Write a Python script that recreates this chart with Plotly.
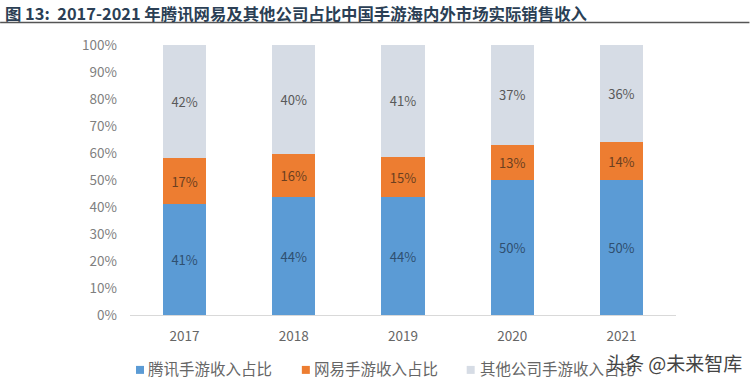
import plotly.graph_objects as go

years = ["2017", "2018", "2019", "2020", "2021"]
tencent = [41, 43.6, 43.6, 50, 50]
netease = [17, 16, 15, 13, 14]
others = [42, 40.4, 41.4, 37, 36]
y_ticks = [0, 10, 20, 30, 40, 50, 60, 70, 80, 90, 100]
y_tick_labels = ["0%", "10%", "20%", "30%", "40%", "50%", "60%", "70%", "80%", "90%", "100%"]
series_names = ["腾讯手游收入占比", "网易手游收入占比", "其他公司手游收入占比"]
colors = ["#5B9BD5", "#ED7D31", "#D6DCE5"]
label_colors = ["#2f4f70", "#6b3f20", "#595959"]
title = "图 13:  2017-2021 年腾讯网易及其他公司占比中国手游海内外市场实际销售收入"
watermark = "头条 @未来智库"

CJK = "Noto Sans CJK SC"
W, H = 750, 384
L, R, T, B = 130, 676.5, 44.5, 315

def px(x):
    return (x - L) / (R - L)

def py(y):
    return (B - y) / (B - T)

fig = go.Figure()
for name, vals, c, lc in zip(series_names, [tencent, netease, others], colors, label_colors):
    fig.add_bar(x=years, y=vals, name=name, marker=dict(color=c, line_width=0),
                width=0.395, texttemplate="%{y:.0f}%", textposition="inside",
                insidetextanchor="middle", constraintext="none", showlegend=False,
                textfont=dict(family=CJK, size=13, color=lc))

legend_squares = [136, 302, 467]
legend_texts = [146, 312, 478]
shapes = [dict(type="line", xref="paper", yref="paper", x0=px(0), x1=px(W),
               y0=py(22), y1=py(22), line=dict(color="#555555", width=1.5))]
annotations = [
    dict(text="<b>%s</b>" % title, xref="paper", yref="paper", showarrow=False,
         x=px(3), xanchor="left", y=py(12), yanchor="middle",
         font=dict(family=CJK, size=16.4, color="#2b3f55")),
]
for name, c, sx, tx in zip(series_names, colors, legend_squares, legend_texts):
    shapes.append(dict(type="rect", xref="paper", yref="paper", x0=px(sx), x1=px(sx + 8),
                       y0=py(366), y1=py(374), fillcolor=c, line_width=0))
    annotations.append(dict(text=name, xref="paper", yref="paper", showarrow=False,
                            x=px(tx), xanchor="left", y=py(368.5), yanchor="middle",
                            font=dict(family=CJK, size=15.5, color="#666666")))
annotations.append(dict(text=watermark, xref="paper", yref="paper", showarrow=False,
                        x=px(745), xanchor="right", y=py(363), yanchor="middle",
                        font=dict(family=CJK, size=19, color="#444444")))

fig.update_layout(
    width=W, height=H, barmode="stack", showlegend=False, autosize=False,
    margin=dict(l=L, r=W - R, t=T, b=H - B, pad=0),
    paper_bgcolor="white", plot_bgcolor="white",
    font=dict(family=CJK, color="#666666"),
    xaxis=dict(type="category", showline=True, linecolor="#D9D9D9", linewidth=1,
               ticks="", tickfont=dict(size=13.5, color="#666666"), showgrid=False,
               ticklabelstandoff=9),
    yaxis=dict(range=[0, 100], tickmode="array", tickvals=y_ticks, ticktext=y_tick_labels,
               showgrid=False, zeroline=False, showline=False, ticks="",
               tickfont=dict(size=13.5, color="#7f7f7f"), ticklabelstandoff=12),
    shapes=shapes,
    annotations=annotations,
)
fig.write_html("out.html", post_script="document.body.style.margin='0';",
               config=dict(displayModeBar=False))
